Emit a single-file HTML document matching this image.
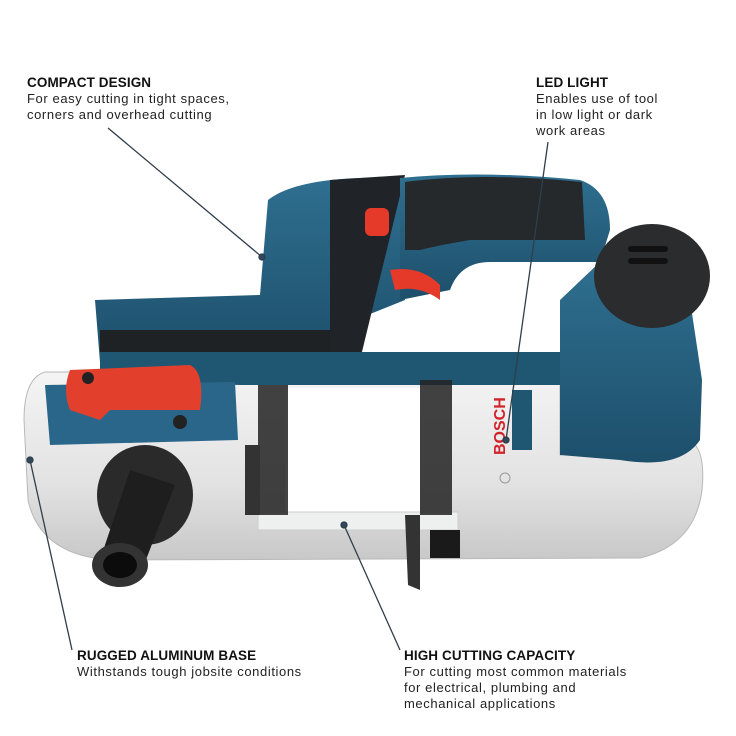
<!DOCTYPE html>
<html><head><style>
body{margin:0;background:#fff;width:736px;height:736px;overflow:hidden;position:relative;font-family:"Liberation Sans",sans-serif;color:#222}
.t{position:absolute;font-size:13px;line-height:16px;letter-spacing:0.6px}
.t b{font-size:13.5px;letter-spacing:0.1px;color:#111}
svg{position:absolute;left:0;top:0}
</style></head><body>
<svg width="736" height="736" viewBox="0 0 736 736">
<defs>
<linearGradient id="sil" x1="0" y1="0" x2="0" y2="1"><stop offset="0" stop-color="#f4f4f4"/><stop offset="0.6" stop-color="#e2e2e2"/><stop offset="1" stop-color="#c8c8c8"/></linearGradient>
<linearGradient id="blu" x1="0" y1="0" x2="0" y2="1"><stop offset="0" stop-color="#2f6f90"/><stop offset="1" stop-color="#1d4f6b"/></linearGradient>
</defs>
<path d="M45 372 L560 372 L560 455 L690 440 Q706 450 702 490 Q695 545 640 558 L110 560 Q40 555 28 500 L24 420 Q24 378 45 372 Z" fill="url(#sil)" stroke="#b8b8b8"/>
<path d="M95 300 L260 295 L268 200 Q300 175 400 178 L405 300 L330 330 L330 362 L100 362 Z" fill="url(#blu)"/>
<path d="M100 330 L330 330 L345 362 L100 362 Z" fill="#1e2224"/>
<path d="M330 180 L405 175 L360 360 L330 360 Z" fill="#202428"/>
<rect x="365" y="208" width="24" height="28" rx="6" fill="#e53a2a"/>
<path d="M400 178 Q480 170 580 180 Q610 190 610 230 L600 262 L490 262 Q460 262 450 290 L400 300 Z" fill="url(#blu)"/>
<path d="M405 182 Q480 172 582 182 L585 240 L470 240 Q440 245 420 250 L405 250 Z" fill="#26292c"/>
<path d="M390 270 Q420 265 440 285 L440 300 Q420 285 395 290 Z" fill="#e53a2a"/>
<path d="M100 352 L560 352 L560 385 L240 385 L100 380 Z" fill="#1f5773"/>
<path d="M560 300 L600 262 L690 300 L702 380 L700 440 Q680 470 620 460 L560 455 Z" fill="url(#blu)"/>
<ellipse cx="652" cy="276" rx="58" ry="52" fill="#2a2c2e"/>
<rect x="628" y="246" width="40" height="6" rx="3" fill="#111"/>
<rect x="628" y="258" width="40" height="6" rx="3" fill="#111"/>
<path d="M45 385 L235 382 L238 440 L50 445 Z" fill="#2a668a"/>
<path d="M70 370 L190 365 Q205 372 200 410 L110 410 L100 420 L70 410 Q62 390 70 370 Z" fill="#e2402c"/>
<circle cx="88" cy="378" r="6" fill="#222"/>
<circle cx="180" cy="422" r="7" fill="#222"/>
<rect x="285" y="388" width="135" height="125" fill="#fff"/>
<rect x="258" y="512" width="200" height="18" fill="#eef0f0" stroke="#ccc"/>
<rect x="258" y="385" width="30" height="130" fill="#222" opacity="0.85"/>
<rect x="420" y="380" width="32" height="135" fill="#222" opacity="0.85"/>
<rect x="245" y="445" width="15" height="70" fill="#333"/>
<rect x="430" y="530" width="30" height="28" fill="#1a1a1a"/>
<path d="M405 515 L420 515 L420 590 L408 585 Z" fill="#333"/>
<text x="505" y="455" transform="rotate(-90 505 455)" font-size="16" font-weight="bold" fill="#d2232a" font-family="Liberation Sans">BOSCH</text>
<rect x="512" y="390" width="20" height="60" fill="#1f5773"/>
<circle cx="505" cy="478" r="5" fill="none" stroke="#999"/>
<ellipse cx="145" cy="495" rx="48" ry="50" fill="#2a2a2a"/>
<path d="M130 470 L175 485 L140 575 L100 560 Z" fill="#1e1e1e"/>
<ellipse cx="120" cy="565" rx="28" ry="22" fill="#333"/>
<ellipse cx="120" cy="565" rx="17" ry="13" fill="#0c0c0c"/>
<g stroke="#2f3e4a" stroke-width="1.3" fill="#2f4a5e">
<line x1="108" y1="128" x2="262" y2="257"/>
<line x1="548" y1="142" x2="506" y2="440"/>
<line x1="30" y1="460" x2="72" y2="650"/>
<line x1="344" y1="525" x2="400" y2="650"/>
<circle cx="262" cy="257" r="3"/><circle cx="506" cy="440" r="3"/><circle cx="30" cy="460" r="3"/><circle cx="344" cy="525" r="3"/>
</g>
</svg>
<div class="t" style="left:27px;top:75px"><b>COMPACT DESIGN</b><br>For easy cutting in tight spaces,<br>corners and overhead cutting</div>
<div class="t" style="left:536px;top:75px"><b>LED LIGHT</b><br>Enables use of tool<br>in low light or dark<br>work areas</div>
<div class="t" style="left:77px;top:648px"><b>RUGGED ALUMINUM BASE</b><br>Withstands tough jobsite conditions</div>
<div class="t" style="left:404px;top:648px"><b>HIGH CUTTING CAPACITY</b><br>For cutting most common materials<br>for electrical, plumbing and<br>mechanical applications</div>
</body></html>
